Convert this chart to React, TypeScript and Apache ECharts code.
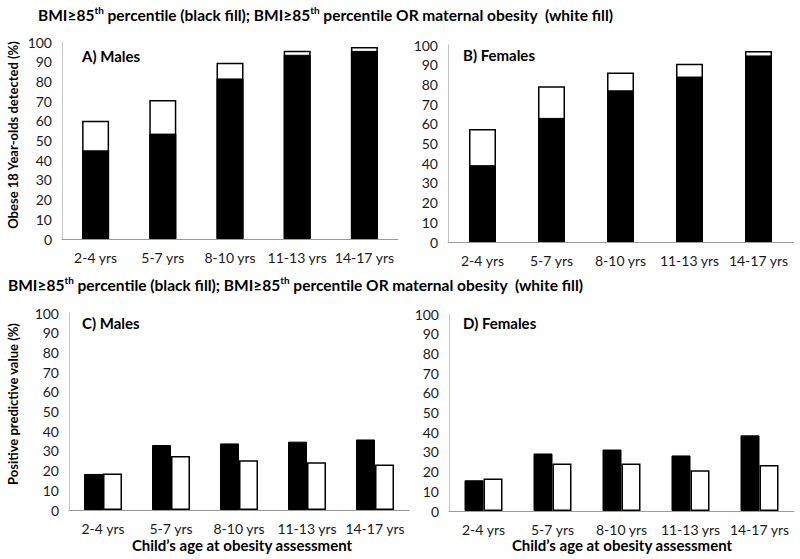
import React, { useEffect, useRef } from "react";
import * as echarts from "echarts";

const categories = ["2-4 yrs", "5-7 yrs", "8-10 yrs", "11-13 yrs", "14-17 yrs"];
// Panel A/B: % of obese 18-year-olds detected
const maleBmiDetected = [45, 53.5, 81.5, 93.5, 95.5];
const maleBmiOrMaternalDetected = [60, 70.5, 89.5, 95.5, 97.5];
const femaleBmiDetected = [39, 63, 77, 84, 94.7];
const femaleBmiOrMaternalDetected = [57.3, 79, 86, 90.5, 97];
// Panel C/D: positive predictive value (%)
const malePpvBmi = [18.3, 33, 33.8, 34.7, 35.8];
const malePpvBmiOrMaternal = [18.5, 27.4, 25.3, 24.3, 23.1];
const femalePpvBmi = [15.6, 29.2, 31.2, 28.2, 38.4];
const femalePpvBmiOrMaternal = [16.5, 24.1, 24.1, 20.7, 23.4];
const yTicks = [0, 10, 20, 30, 40, 50, 60, 70, 80, 90, 100];

const FONT = "Lato";

export default function App() {
  const ref = useRef<HTMLDivElement>(null);
  useEffect(() => {
    if (!ref.current) return;
    const chart = echarts.init(ref.current, undefined, { renderer: "svg" });
    const grids = [
      { left: 62, top: 42, width: 336, height: 197 },
      { left: 448, top: 45, width: 345, height: 197 },
      { left: 69, top: 313, width: 340, height: 197 },
      { left: 449, top: 314, width: 345, height: 197 },
    ];
    const xAxes = grids.map((_, i) => ({
      type: "category" as const,
      gridIndex: i,
      data: categories,
      axisLine: { lineStyle: { color: "#9a9a9a", width: 1 } },
      axisTick: { show: false },
      axisLabel: { interval: 0, color: "#1a1a1a", fontFamily: FONT, fontSize: 14, margin: 11 },
    }));
    const yAxes = grids.map((_, i) => ({
      type: "value" as const,
      gridIndex: i,
      min: yTicks[0],
      max: yTicks[yTicks.length - 1],
      interval: 10,
      axisLine: { show: true, lineStyle: { color: "#c4c4c4", width: 1 } },
      axisTick: { show: false },
      splitLine: { show: false },
      axisLabel: { color: "#1a1a1a", fontFamily: FONT, fontSize: 14, margin: 10 },
    }));
    const whiteStyle = { color: "#ffffff", borderColor: "#000000", borderWidth: 1.5 };
    const blackStyle = { color: "#000000", borderColor: "#000000", borderWidth: 1 };
    const series: any[] = [];
    const stackedPanels = [
      [maleBmiOrMaternalDetected, maleBmiDetected],
      [femaleBmiOrMaternalDetected, femaleBmiDetected],
    ];
    stackedPanels.forEach(([white, black], i) => {
      series.push({
        type: "bar", xAxisIndex: i, yAxisIndex: i, data: white, barWidth: 27,
        barGap: "-100%", itemStyle: whiteStyle, z: 2,
      });
      series.push({
        type: "bar", xAxisIndex: i, yAxisIndex: i, data: black, barWidth: 27,
        barGap: "-100%", itemStyle: blackStyle, z: 3,
      });
    });
    const ppvPanels = [
      [malePpvBmi, malePpvBmiOrMaternal],
      [femalePpvBmi, femalePpvBmiOrMaternal],
    ];
    ppvPanels.forEach(([black, white], j) => {
      const i = j + 2;
      series.push({
        type: "bar", xAxisIndex: i, yAxisIndex: i, data: black, barWidth: 19,
        barGap: "0%", itemStyle: blackStyle,
      });
      series.push({
        type: "bar", xAxisIndex: i, yAxisIndex: i, data: white, barWidth: 19,
        barGap: "0%", itemStyle: whiteStyle,
      });
    });
    const headerRich = {
      b: { fontFamily: FONT, fontSize: 15.5, fontWeight: "bold", color: "#000", lineHeight: 20 },
      s: { fontFamily: FONT, fontSize: 10, fontWeight: "bold", color: "#000", verticalAlign: "top", lineHeight: 20, padding: [0, 0, 6, 0] },
    };
    const headerText =
      "{b|BMI≥85}{s|th}{b| percentile (black fill); BMI≥85}{s|th}{b| percentile OR maternal obesity  (white fill)}";
    const bold = { fontFamily: FONT, fontWeight: "bold", fill: "#000" };
    chart.setOption({
      animation: false,
      backgroundColor: "#ffffff",
      grid: grids,
      xAxis: xAxes,
      yAxis: yAxes,
      series,
      graphic: [
        { type: "text", x: 38, y: 15, style: { text: headerText, rich: headerRich, verticalAlign: "middle", align: "left" } },
        { type: "text", x: 8, y: 285, style: { text: headerText, rich: headerRich, verticalAlign: "middle", align: "left" } },
        { type: "text", x: 82, y: 56, style: { ...bold, text: "A) Males", fontSize: 15, verticalAlign: "middle" } },
        { type: "text", x: 463, y: 55, style: { ...bold, text: "B) Females", fontSize: 15, verticalAlign: "middle" } },
        { type: "text", x: 82, y: 323, style: { ...bold, text: "C) Males", fontSize: 15, verticalAlign: "middle" } },
        { type: "text", x: 463, y: 323, style: { ...bold, text: "D) Females", fontSize: 15, verticalAlign: "middle" } },
        { type: "text", x: 13, y: 135, rotation: Math.PI / 2, style: { ...bold, text: "Obese 18 Year-olds detected (%)", fontSize: 13, align: "center", verticalAlign: "middle" } },
        { type: "text", x: 13, y: 404, rotation: Math.PI / 2, style: { ...bold, text: "Positive predictive value (%)", fontSize: 13, align: "center", verticalAlign: "middle" } },
        { type: "text", x: 242, y: 545, style: { ...bold, text: "Child\u2019s age at obesity assessment", fontSize: 15, align: "center", verticalAlign: "middle" } },
        { type: "text", x: 622, y: 545, style: { ...bold, text: "Child\u2019s age at obesity assessment", fontSize: 15, align: "center", verticalAlign: "middle" } },
      ],
    });
    return () => chart.dispose();
  }, []);
  return <div ref={ref} style={{ position: "fixed", left: 0, top: 0, width: 800, height: 559 }} />;
}
